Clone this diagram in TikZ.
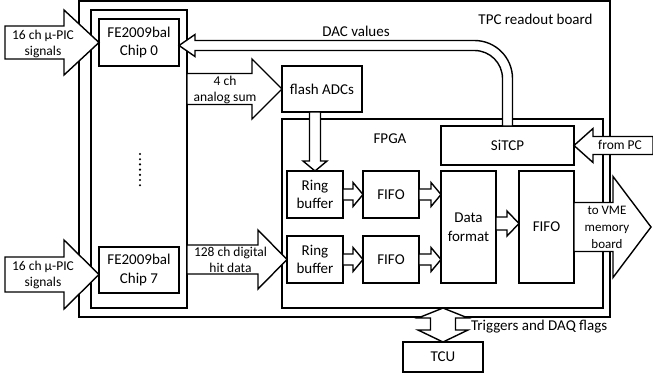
\documentclass[tikz,border=0pt]{standalone}
\usepackage{fontspec}
\setmainfont{Carlito}
\usetikzlibrary{calc}
% horizontal block arrow: start, tip, shaft half width, head half width, head length
\newcommand{\hblock}[5]{\draw[fat] let \p1=(#1), \p2=(#2) in
  (\x1,{\y2+#3}) -- ({\x2-(#5)},{\y2+#3}) -- ({\x2-(#5)},{\y2+#4}) -- (\p2) -- ({\x2-(#5)},{\y2-#4})
  -- ({\x2-(#5)},{\y2-#3}) -- (\x1,{\y2-#3}) -- cycle;}
\begin{document}
\begin{tikzpicture}[x=1pt,y=1pt,inner sep=0pt,outer sep=0pt,line width=1.4pt,
font=\fontsize{15}{18.5}\selectfont,
frame/.style={draw,rectangle},
blk/.style={draw,rectangle,fill=white,align=center},
fat/.style={draw,fill=white,line join=miter},
lbl/.style={align=center,font=\fontsize{13.5}{16}\selectfont}]
\useasboundingbox (0,0) rectangle (653,-373);
\draw (344.5,-159) node[frame,minimum width=531pt,minimum height=316pt] (board) {};
\draw (139,-159) node[frame,minimum width=96pt,minimum height=298pt] (chips) {};
\draw (442.5,-213.5) node[frame,minimum width=321pt,minimum height=189pt] (fpga) {};
\draw (139,-42.5) node[blk,minimum width=80pt,minimum height=47pt] (chip0) {FE2009bal\\Chip 0};
\draw (139,-270) node[blk,minimum width=80pt,minimum height=46pt] (chip7) {FE2009bal\\Chip 7};
\draw (322,-89) node[blk,minimum width=80pt,minimum height=46pt] (adc) {flash ADCs};
\draw (507.5,-145.5) node[blk,minimum width=133pt,minimum height=39pt] (sitcp) {SiTCP};
\draw (315,-194.5) node[blk,minimum width=56pt,minimum height=47pt] (ring1) {Ring\\buffer};
\draw (315,-259.5) node[blk,minimum width=56pt,minimum height=47pt] (ring2) {Ring\\buffer};
\draw (391,-194.5) node[blk,minimum width=56pt,minimum height=47pt] (fifo1) {FIFO};
\draw (391,-259.5) node[blk,minimum width=56pt,minimum height=47pt] (fifo2) {FIFO};
\draw (468.5,-227) node[blk,minimum width=55pt,minimum height=112pt] (data) {Data\\format};
\draw (546.5,-227) node[blk,minimum width=55pt,minimum height=112pt] (fifo3) {FIFO};
\draw (443,-357) node[blk,minimum width=80pt,minimum height=30pt] (tcu) {TCU};
\foreach \k in {0,...,6} \fill (140,-154-5.2*\k) circle (1.2pt);
\coordinate (in0) at (5,-42.5);
\coordinate (in7) at (5,-274.5);
\coordinate (pc) at (653,-145.5);
\coordinate (vme) at (651,-227);
% big arrows
\hblock{in0}{chip0.west}{16.5}{32.5}{35}
\hblock{in7}{[yshift=-4.5pt]chip7.west}{17.5}{34.5}{35}
\hblock{chips.east |- adc.west}{adc.west}{15.5}{30}{30}
\hblock{chips.east |- ring2.west}{ring2.west}{14.5}{29.5}{29}
\hblock{ring1.east}{fifo1.west}{5.5}{12}{10}
\hblock{ring2.east}{fifo2.west}{5.5}{12}{10}
\hblock{fifo1.east}{fifo1.east -| data.west}{5.5}{12}{10}
\hblock{fifo2.east}{fifo2.east -| data.west}{5.5}{12}{10}
\hblock{data.east}{[yshift=3.5pt]fifo3.west}{6.5}{12.5}{12}
\hblock{pc}{sitcp.east}{9}{17}{-19}
\hblock{fifo3.east}{vme}{24.5}{50.5}{38}
\draw[fat] let \p1=(adc.south -| ring1.north), \p2=(ring1.north) in
  ({\x1-5.5},\y1) -- ({\x1-5.5},{\y2+10}) -- ({\x1-12},{\y2+10}) -- (\p2) -- ({\x1+12},{\y2+10})
  -- ({\x1+5.5},{\y2+10}) -- ({\x1+5.5},\y1) -- cycle;
\draw[fat] let \p1=(fpga.south -| tcu.north), \p2=(tcu.north) in
  (\x1,\y1) -- ({\x1+25},{\y1-10}) -- ({\x1+12.5},{\y1-10}) -- ({\x1+12.5},{\y2+12}) -- ({\x1+25},{\y2+12})
  -- (\p2) -- ({\x1-25},{\y2+12}) -- ({\x1-12.5},{\y2+12}) -- ({\x1-12.5},{\y1-10}) -- ({\x1-25},{\y1-10}) -- cycle;
\draw[fat] let \p1=(sitcp.north), \p2=([yshift=-3pt]chip0.east) in
  ({\x1+5},\y1) -- ({\x1+5},{\y2+5-38}) arc[start angle=0,end angle=90,radius=38pt]
  -- ({\x2+16},{\y2+5}) -- ({\x2+16},{\y2+11}) -- (\p2) -- ({\x2+16},{\y2-11}) -- ({\x2+16},{\y2-5})
  -- ({\x1-33},{\y2-5}) arc[start angle=90,end angle=0,radius=28pt] -- ({\x1-5},\y1) -- cycle;
% labels
\draw (43,-43.5) node[lbl] (l0) {16 ch μ-PIC\\signals};
\draw (43,-274.5) node[lbl] (l7) {16 ch μ-PIC\\signals};
\draw (225,-90) node[lbl] (lsum) {4 ch\\analog sum};
\draw (230.5,-260) node[lbl] (lhit) {128 ch digital\\hit data};
\draw (620,-145) node[lbl] (lpc) {from PC};
\draw (607,-227) node[lbl,font=\fontsize{13}{17}\selectfont] (lvme) {to VME\\memory\\board};
\draw (535.5,-19) node (ltpc) {TPC readout board};
\draw (356,-31) node (ldac) {DAC values};
\draw (390,-139) node (lfpga) {FPGA};
\draw (471,-327) node[anchor=west] (ltrig) {Triggers and DAQ flags};
\end{tikzpicture}
\end{document}
